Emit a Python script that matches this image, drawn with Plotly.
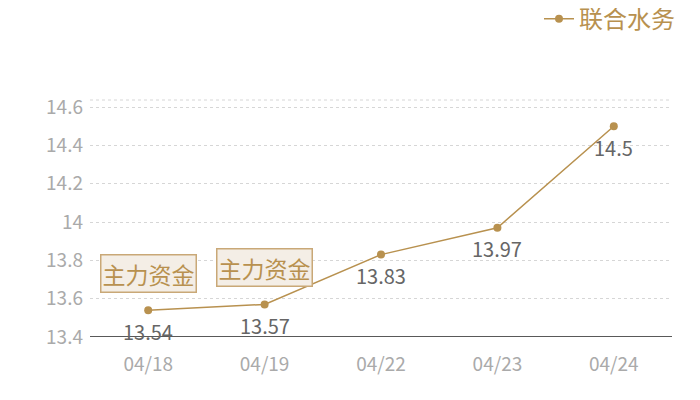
import plotly.graph_objects as go

dates = ["04/18", "04/19", "04/22", "04/23", "04/24"]
prices = [13.54, 13.57, 13.83, 13.97, 14.5]
flag_dates = ["04/18", "04/19"]
flag_prices = [13.54, 13.57]
flag_text = "主力资金"
series_name = "联合水务"

gold = "#b8914f"
font_cn = "Noto Sans CJK SC"

fig = go.Figure()
fig.add_trace(go.Scatter(
    x=dates, y=prices, name=series_name,
    mode="lines+markers",
    line=dict(color=gold, width=1.5),
    marker=dict(color=gold, size=8),
))

# value labels under each point
for d, p in zip(dates, prices):
    fig.add_annotation(
        x=d, y=p, text=str(p), showarrow=False,
        yanchor="middle", yshift=-21,
        font=dict(color="#666666", size=20, family=font_cn),
    )

# "主力资金" flags
for d, p in zip(flag_dates, flag_prices):
    fig.add_annotation(
        x=d, y=p, text=flag_text, showarrow=False,
        yanchor="bottom", yshift=17,
        font=dict(color=gold, size=23, family=font_cn),
        bgcolor="#f4eee6", bordercolor="#c9a877", borderwidth=1.5, borderpad=1,
    )

# top grid line of the plot area
fig.add_shape(type="line", xref="paper", yref="paper", x0=0, x1=1, y0=1, y1=1,
              line=dict(color="#d6d6d6", width=1, dash="dot"))

fig.update_layout(
    width=700, height=400,
    margin=dict(l=82, r=36, t=92, b=71, autoexpand=False),
    paper_bgcolor="white", plot_bgcolor="white",
    font=dict(family=font_cn),
    showlegend=True,
    legend=dict(x=0.96, y=0.972, xref="container", yref="container",
                xanchor="right", yanchor="middle",
                font=dict(color=gold, size=24, family=font_cn),
                bgcolor="rgba(0,0,0,0)"),
    xaxis=dict(
        type="category", range=[-0.5, 4.5],
        showgrid=False, zeroline=False,
        showline=False, ticks="",
        tickfont=dict(color="#aaaaaa", size=19, family=font_cn),
        ticklabelstandoff=14,
    ),
    yaxis=dict(
        range=[13.4, 14.637],
        tickvals=[13.4, 13.6, 13.8, 14, 14.2, 14.4, 14.6],
        ticktext=["13.4", "13.6", "13.8", "14", "14.2", "14.4", "14.6"],
        showgrid=True, gridcolor="#d6d6d6", griddash="dot", gridwidth=1,
        zeroline=False, showline=False,
        tickfont=dict(color="#aaaaaa", size=19, family=font_cn),
        ticklabelstandoff=6,
    ),
)

# baseline at the bottom of the plot
fig.add_shape(type="line", xref="paper", yref="y", x0=0, x1=1, y0=13.4, y1=13.4,
              line=dict(color="#222222", width=1.3))

fig.write_html("out.html")
